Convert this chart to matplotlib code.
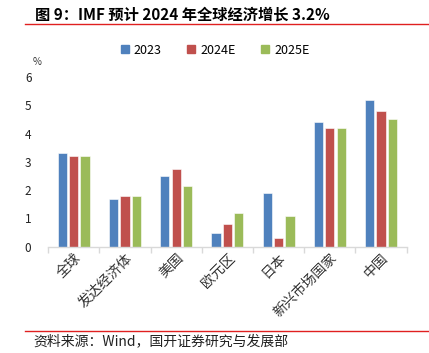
import numpy as np
import matplotlib
matplotlib.use("Agg")
import matplotlib.pyplot as plt
from matplotlib.lines import Line2D

plt.rcParams['font.family'] = ['Noto Sans CJK SC', 'DejaVu Sans']

categories = ["全球", "发达经济体", "美国", "欧元区", "日本", "新兴市场国家", "中国"]
series_names = ["2023", "2024E", "2025E"]
v2023 = [3.3, 1.7, 2.5, 0.5, 1.9, 4.4, 5.2]
v2024 = [3.2, 1.8, 2.75, 0.8, 0.3, 4.2, 4.8]
v2025 = [3.2, 1.8, 2.15, 1.2, 1.1, 4.2, 4.5]
colors = ["#4F81BD", "#C0504D", "#9BBB59"]

fig = plt.figure(figsize=(4.29, 3.53), dpi=100)
ax = fig.add_axes([0.112, 0.301, 0.836, 0.481])

x = np.arange(len(categories))
w = 0.18
for i, (vals, c) in enumerate(zip([v2023, v2024, v2025], colors)):
    ax.bar(x + (i - 1) * 0.222, vals, width=w, color=c,
           edgecolor="white", linewidth=0.4, label=series_names[i])

ax.set_xlim(-0.5, len(categories) - 0.5)
ax.set_ylim(0, 6)
ax.set_yticks(range(0, 7))
ax.tick_params(axis="y", length=0, labelsize=8.5, pad=12, labelcolor="#222222")
for s in ["top", "right", "left"]:
    ax.spines[s].set_visible(False)
ax.spines["bottom"].set_color("#D9D9D9")
ax.spines["bottom"].set_linewidth(1.0)

ax.set_xticks(np.arange(-0.5, len(categories)), minor=False)
ax.set_xticklabels([])
ax.tick_params(axis="x", which="major", length=4, color="#D9D9D9", width=1)
ax.set_xticks(x, minor=True)
ax.set_xticklabels(categories, minor=True, rotation=45, ha="right",
                   rotation_mode="anchor", fontsize=10, color="#333333")
ax.tick_params(axis="x", which="minor", length=0, pad=3)

fig.text(0.075, 0.824, "%", fontsize=7, color="#333333", va="center")

handles = [Line2D([], [], marker="s", linestyle="", markersize=6, color=c) for c in colors]
fig.legend(handles, series_names, loc="center", bbox_to_anchor=(0.5, 0.858),
           ncol=3, frameon=False, fontsize=9, handlelength=0.8,
           handletextpad=0.3, columnspacing=2.0)

fig.text(0.082, 0.958, "图 9：IMF 预计 2024 年全球经济增长 3.2%", fontsize=11,
         fontweight="bold", va="center")
fig.add_artist(Line2D([0.058, 1.0], [0.932, 0.932], color="#E02020", linewidth=1.0))
fig.add_artist(Line2D([0.058, 1.0], [0.063, 0.063], color="#E02020", linewidth=1.0))
fig.text(0.077, 0.034, "资料来源：Wind，国开证券研究与发展部", fontsize=10, va="center",
         color="#222222")

fig.savefig("out.png", dpi=100)
